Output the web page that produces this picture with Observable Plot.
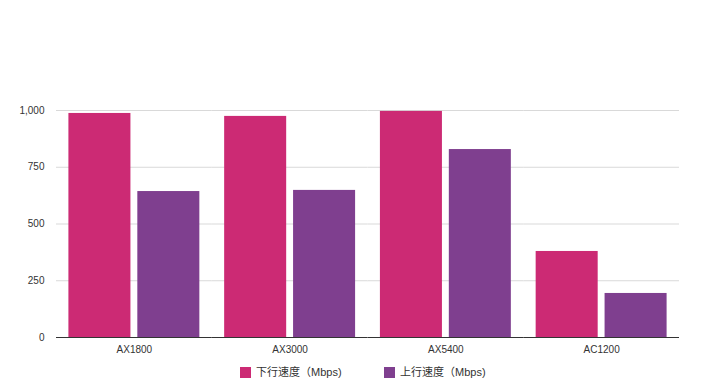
<!DOCTYPE html>
<html>
<head>
<meta charset="utf-8">
<script src="https://cdn.jsdelivr.net/npm/d3@7"></script>
<script src="https://cdn.jsdelivr.net/npm/@observablehq/plot@0.6"></script>
<style>
  html, body { margin: 0; padding: 0; background: #fff; }
  body { width: 720px; height: 379px; overflow: hidden; font-family: "Liberation Sans", Arial, "Noto Sans CJK SC", sans-serif; }
  #legend { position: relative; height: 17px; font-size: 11px; color: #333; }
  .item { position: absolute; top: 4px; display: flex; align-items: center; white-space: nowrap; line-height: 13px; font-family: "Liberation Sans", "Noto Sans CJK SC", sans-serif; }
  .sw { width: 11px; height: 11px; margin-right: 5px; }
</style>
</head>
<body>
<div id="chart"></div>
<div id="legend"></div>
<script>
const models = ["AX1800", "AX3000", "AX5400", "AC1200"];
const downSpeed = [987, 974, 996, 379];
const upSpeed = [643, 648, 828, 194];
const seriesNames = ["下行速度（Mbps)", "上行速度（Mbps)"];
const seriesColors = ["#cc2a74", "#7f3f8f"];
const yTicks = [0, 250, 500, 750, 1000];

const data = [];
models.forEach((m, i) => {
  data.push({model: m, series: seriesNames[0], value: downSpeed[i]});
  data.push({model: m, series: seriesNames[1], value: upSpeed[i]});
});

const chart = Plot.plot({
  width: 720,
  height: 362,
  marginTop: 110,
  marginBottom: 25,
  marginLeft: 56,
  marginRight: 41,
  style: {fontFamily: "'Liberation Sans', Arial, sans-serif", fontSize: "10px", color: "#333", background: "#fff"},
  fx: {domain: models, padding: 0, round: false, label: null, tickSize: 0, tickPadding: 8},
  x: {domain: seriesNames, paddingInner: 0.1, paddingOuter: 0.18, round: false, axis: null},
  y: {domain: [0, 1000], ticks: yTicks, tickFormat: d3.format(",d"), label: null, tickSize: 0, tickPadding: 12},
  color: {domain: seriesNames, range: seriesColors},
  marks: [
    Plot.gridY(yTicks.filter(d => d > 0), {stroke: "#d9d9d9", strokeOpacity: 1}),
    Plot.barY(data, {fx: "model", x: "series", y: "value", fill: "series"}),
    Plot.ruleY([0], {stroke: "#333", strokeWidth: 1})
  ]
});
document.getElementById("chart").appendChild(chart);

const legend = document.getElementById("legend");
const lefts = [240, 384];
seriesNames.forEach((name, i) => {
  const item = document.createElement("div");
  item.className = "item";
  item.style.left = lefts[i] + "px";
  const sw = document.createElement("span");
  sw.className = "sw";
  sw.style.background = seriesColors[i];
  const t = document.createElement("span");
  t.textContent = name;
  item.appendChild(sw);
  item.appendChild(t);
  legend.appendChild(item);
});
</script>
</body>
</html>
